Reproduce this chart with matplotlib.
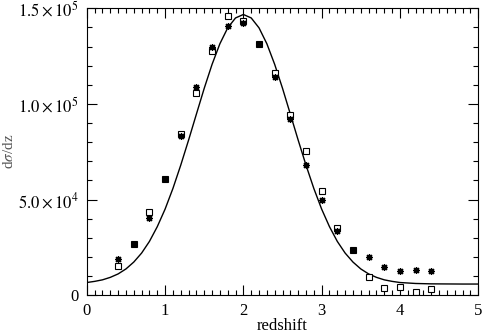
import numpy as np
import matplotlib
matplotlib.use("Agg")
import matplotlib.pyplot as plt
from matplotlib.ticker import MultipleLocator

plt.rcParams['font.family'] = ['Liberation Serif', 'DejaVu Serif']
plt.rcParams['mathtext.fontset'] = 'stix'

z_bins = [0.4, 0.6, 0.8, 1.0, 1.2, 1.4, 1.6, 1.8, 2.0, 2.2, 2.4,
          2.6, 2.8, 3.0, 3.2, 3.4, 3.6, 3.8, 4.0, 4.2, 4.4]
squares = [15000, 26800, 43500, 60800, 84300, 105700, 127800, 146000, 143200, 131400, 116200,
           94100, 75500, 54400, 34900, 23800, 9300, 3500, 4500, 1700, 3100]
stars = [18800, 26800, 40400, 60800, 83000, 108800, 129900, 140800, 142600, 131400, 114000,
         91900, 67900, 49600, 33700, 23800, 19900, 14700, 12800, 13100, 12800]

# model curve
z_curve = [0.0, 0.1, 0.2, 0.3, 0.4, 0.5, 0.6, 0.7, 0.8, 0.9, 1.0, 1.1, 1.2, 1.3, 1.4,
           1.5, 1.6, 1.7, 1.8, 1.9, 2.0, 2.1, 2.2, 2.3, 2.4, 2.5, 2.6, 2.7, 2.8, 2.9,
           3.0, 3.1, 3.2, 3.3, 3.4, 3.5, 3.6, 3.7, 3.8, 3.9, 4.0, 4.2, 4.4, 4.6, 4.8, 5.0]
dsdz = [6600, 7200, 8000, 9300, 11100, 13700, 17300, 22000, 28100, 35800, 45000,
        55800, 68000, 81100, 94700, 108200, 120700, 131500, 139800, 145000, 146800,
        145000, 139800, 131500, 120700, 108200, 94700, 81100, 68000, 55800, 45000,
        35800, 28100, 22000, 17300, 13700, 11100, 9300, 8000, 7200, 6600, 6100,
        5900, 5850, 5800, 5800]

x_ticks = [0, 1, 2, 3, 4, 5]
y_ticks = [0, 50000, 100000, 150000]
y_labels = ['0', r'$5.0\times10^{4}$', r'$1.0\times10^{5}$', r'$1.5\times10^{5}$']

fig = plt.figure(figsize=(4.85, 3.35), dpi=100)
ax = fig.add_axes([0.179, 0.119, 0.807, 0.856])

ax.plot(z_curve, dsdz, color='black', lw=1.0)
ax.plot(z_bins, squares, ls='none', marker='s', ms=4.5, mfc='white', mec='black', mew=0.8)
ax.plot(z_bins, stars, ls='none', marker=(8, 2, 0), ms=5, color='black', mew=0.9)

ax.set_xlim(0, 5)
ax.set_ylim(0, 150000)
ax.set_xticks(x_ticks)
ax.set_xticklabels([str(t) for t in x_ticks])
ax.set_yticks(y_ticks)
ax.set_yticklabels(y_labels)
ax.xaxis.set_minor_locator(MultipleLocator(0.1))
ax.yaxis.set_minor_locator(MultipleLocator(10000))

ax.tick_params(which='both', direction='in', top=True, right=True, labelsize=12, width=0.8)
ax.tick_params(which='major', length=7, pad=6)
ax.tick_params(which='minor', length=3.5)
for s in ax.spines.values():
    s.set_linewidth(0.8)

ax.set_xlabel('redshift', fontsize=12, labelpad=-1)
ax.set_ylabel(r'd$\sigma$/dz', fontsize=11, color='#555555')
ax.yaxis.set_label_coords(-0.18, 0.5)

fig.savefig('out.png', dpi=100)
